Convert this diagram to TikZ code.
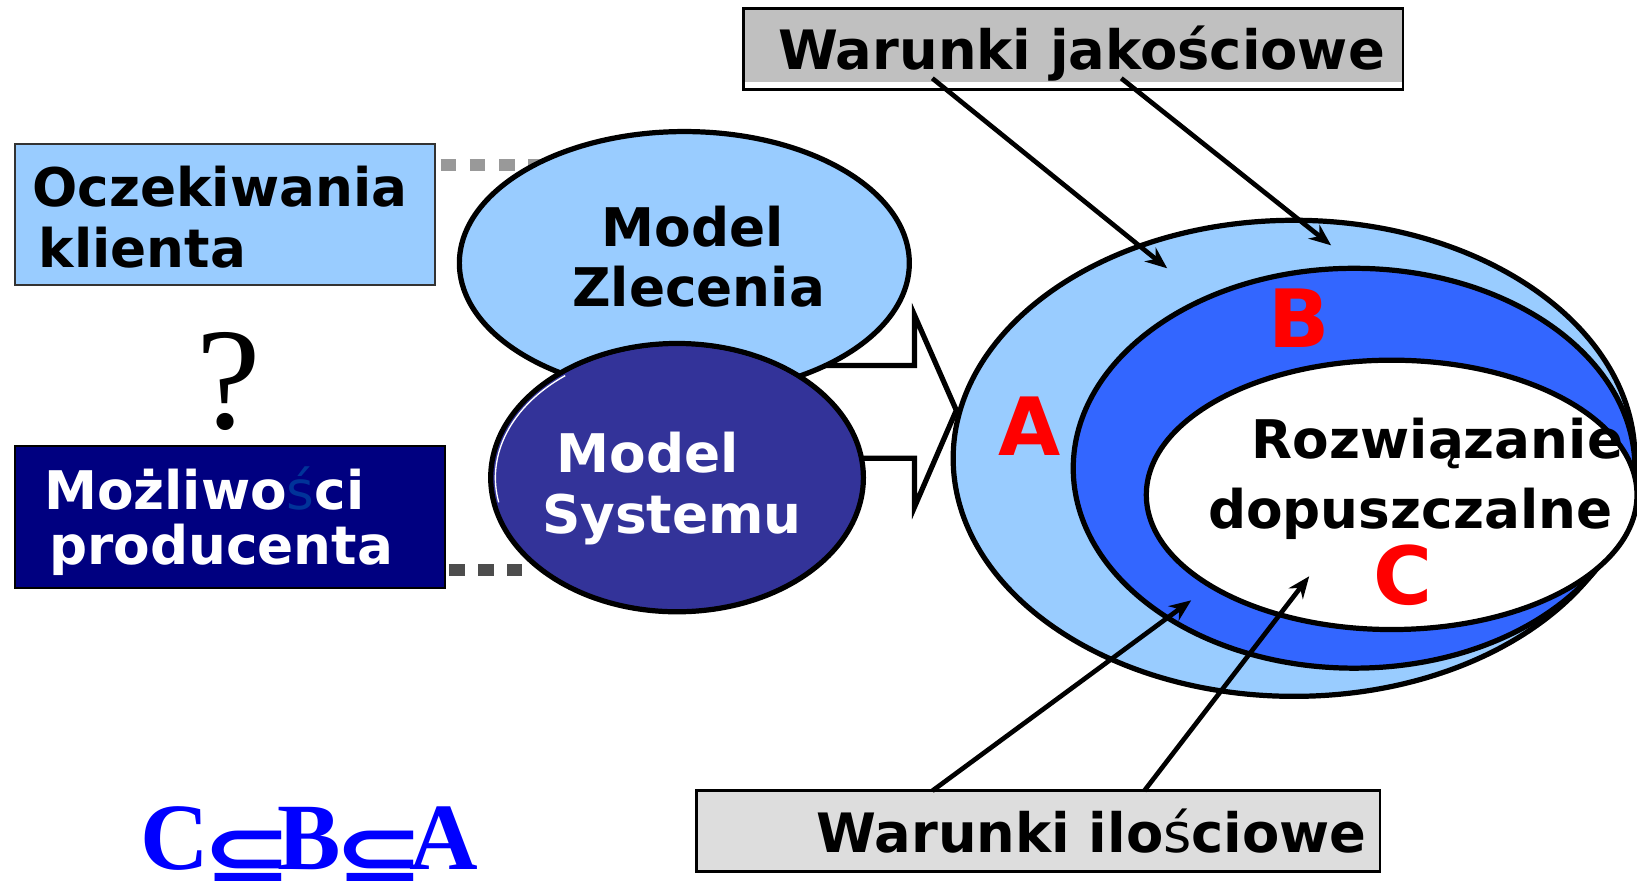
\documentclass[tikz,border=0pt]{standalone}
\usepackage{fontspec}
\usepackage{graphicx}
\setmainfont{DejaVu Sans}
\newfontfamily\serifq{Liberation Serif}
\newfontfamily\dvs{DejaVu Sans}
\usetikzlibrary{shapes.geometric,arrows.meta}
\definecolor{lightblue}{HTML}{99CCFF}
\definecolor{navybox}{HTML}{000080}
\definecolor{sysblue}{HTML}{333399}
\definecolor{ringblue}{HTML}{3366FF}
\definecolor{graytop}{HTML}{C0C0C0}
\definecolor{graybot}{HTML}{DDDDDD}
\definecolor{dotlight}{HTML}{999999}
\definecolor{dotdark}{HTML}{4D4D4D}
\definecolor{formblue}{HTML}{0000FF}
\definecolor{sblue}{HTML}{003399}
\newcommand{\subsym}{\kern-6.5pt\raisebox{-11pt}{\scalebox{1.3}[0.95]{\dvs\fontsize{80}{80}\selectfont ⊆}}\kern-15pt}
\tikzset{
  lbl/.style={inner sep=0pt, anchor=base west, font=\fontsize{51}{58}\selectfont\bfseries},
  wlbl/.style={inner sep=0pt, anchor=base west, font=\fontsize{52}{58}\selectfont\bfseries},
  bigletter/.style={inner sep=0pt, anchor=base west, text=red, font=\fontsize{77}{80}\selectfont\bfseries},
  boxstyle/.style={draw, rectangle, inner sep=0pt, outer sep=0pt, line width=2pt},
  ell/.style={draw, ellipse, inner sep=0pt, outer sep=0pt, line width=5pt},
  conn/.style={line width=4.5pt, -{Stealth[length=21pt,width=17pt]}},
  dotline/.style={line width=12pt, dash pattern=on 15pt off 13pt},
}
\begin{document}
\begin{tikzpicture}[x=1pt,y=-1pt]
\useasboundingbox (0,0) rectangle (1568,845);
\fill[white] (0,0) rectangle (1568,845);

% boxes on the left
\node[boxstyle, fill=lightblue, draw=black!80, minimum width=403pt, minimum height=135pt] (okbox) at (215.5,205.5) {};
\node[boxstyle, fill=navybox, minimum width=412pt, minimum height=136pt] (mpbox) at (220,495) {};

% dotted links
\coordinate (dz) at (535,158);
\coordinate (ds) at (500,546);
\draw[dotline, draw=dotlight] ([xshift=5pt]okbox.east |- dz) -- (dz);
\draw[dotline, draw=dotdark] ([xshift=4pt]mpbox.east |- ds) -- (ds);

% block arrow
\draw[line width=5pt, fill=white, line join=miter]
  (760,350) -- (876,350) -- (876,302) -- (916,393) -- (876,485.5) -- (876,439) -- (760,439) -- cycle;

% model ellipses
\node[ell, fill=lightblue, minimum width=431pt, minimum height=252pt] (zlec) at (655.5,252) {};
\node[ell, fill=sysblue, minimum width=357pt, minimum height=257pt] (syst) at (648.5,457.5) {};
\begin{scope}
  \clip (537,330) rectangle (765,362);
  \fill[sysblue] (648.5,457.5) ellipse [x radius=176, y radius=125.5];
\end{scope}
\draw[white, line width=1.3pt] (648.5,457.5) ++(232:174 and 124) arc[start angle=232, end angle=169, x radius=174, y radius=124];

% nested sets
\node[ell, fill=lightblue, minimum width=653pt, minimum height=456pt] (setA) at (1239.5,439) {};
\node[ell, fill=ringblue, minimum width=538pt, minimum height=383pt] (setB) at (1297,448.5) {};
\node[ell, fill=white, minimum width=470pt, minimum height=258pt] (setC) at (1333,474) {};

% condition boxes
\node[boxstyle, fill=graytop, line width=2.5pt, minimum width=632pt, minimum height=78pt] (wj) at (1028,47) {};
\fill[white] ([xshift=1.3pt,yshift=1.3pt]wj.south west) rectangle ([xshift=-1.3pt,yshift=7pt]wj.south east);
\node[boxstyle, fill=graybot, line width=2.5pt, minimum width=655pt, minimum height=78pt] (wi) at (994.5,796) {};

% texts
\node[lbl] (t1) at (31,198) {Oczekiwania};
\node[lbl] (t2) at (37,256) {klienta};
\node[lbl, text=white] (t3) at (42,488) {Możliwo{\color{sblue}\mdseries ś}ci};
\node[lbl, text=white] (t4) at (47,541) {producenta};
\node[inner sep=0pt, anchor=base, font=\serifq\fontsize{139}{140}\selectfont] (q) at (219,410) {?};
\node[lbl] (t5) at (576,236.5) {Model};
\node[lbl] (t6) at (548,294) {Zlecenia};
\node[lbl, text=white] (t7) at (533,453) {Model};
\node[lbl, text=white] (t8) at (519,511) {Systemu};
\node[lbl] (t9) at (1199,439) {Rozwiązanie};
\node[lbl] (t10) at (1157,506) {dopuszczalne};
\node[wlbl] (t11) at (745,67) {Warunki jakościowe};
\node[wlbl] (t12) at (782,817) {Warunki ilo{\mdseries ś}ciowe};
\node[bigletter] (la) at (956,436) {A};
\node[bigletter] (lb) at (1215,333) {B};
\node[bigletter] (lc) at (1315,579) {C};
\node[inner sep=0pt, anchor=base west, text=formblue, font=\serifq\bfseries\fontsize{91}{95}\selectfont] (incl) at (134,833)
  {C\subsym B\subsym A};

% connectors
\coordinate (wj1) at (893,75);
\coordinate (wj2) at (1074,75);
\coordinate (pA) at (1118,257);
\coordinate (pB) at (1275,235);
\coordinate (wi1) at (893,757.5);
\coordinate (wi2) at (1096,757.5);
\coordinate (pB2) at (1141,575);
\coordinate (pC) at (1254,552);
\draw[conn] (wj1) -- (pA);
\draw[conn] (wj2) -- (pB);
\draw[conn] (wi1) -- (pB2);
\draw[conn] (wi2) -- (pC);
\end{tikzpicture}
\end{document}
